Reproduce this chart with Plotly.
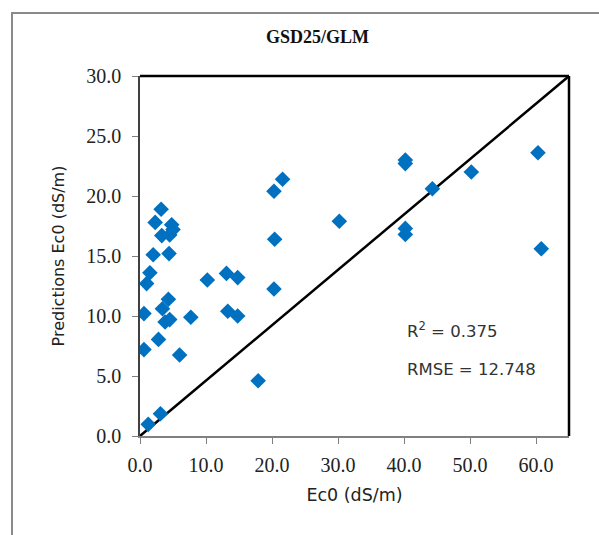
import plotly.graph_objects as go

# Observed Ec0 (dS/m) vs predicted Ec0 (dS/m)
observed = [3.2, 2.3, 3.3, 4.8, 5.0, 4.5, 2.0, 4.4, 20.3, 21.6, 20.4,
            40.2, 40.2, 50.2, 60.3, 44.3, 30.2, 40.2, 40.2, 60.8,
            1.5, 1.0, 0.6, 0.6, 3.4, 4.3, 3.8, 4.5, 2.8, 6.0, 7.7,
            10.2, 13.1, 14.8, 13.3, 14.8, 20.3, 17.9, 3.1, 1.25]
predicted = [18.9, 17.8, 16.7, 17.6, 17.2, 16.75, 15.1, 15.2, 20.4, 21.4, 16.4,
             23.0, 22.7, 22.0, 23.6, 20.6, 17.9, 17.3, 16.8, 15.6,
             13.6, 12.7, 10.2, 7.2, 10.6, 11.4, 9.5, 9.7, 8.05, 6.75, 9.9,
             13.0, 13.55, 13.2, 10.4, 10.0, 12.25, 4.6, 1.85, 0.97]

x_range = [0, 65]
y_range = [0, 30]
x_ticks = [0, 10, 20, 30, 40, 50, 60]
y_ticks = [0, 5, 10, 15, 20, 25, 30]
x_ticktext = ["%.1f" % v for v in x_ticks]
y_ticktext = ["%.1f" % v for v in y_ticks]
stats_text = ["R<sup>2</sup> = 0.375", "RMSE = 12.748"]

fig = go.Figure()

# reference line corner to corner
fig.add_trace(go.Scatter(x=[x_range[0], x_range[1]], y=[y_range[0], y_range[1]],
                         mode="lines", line=dict(color="black", width=2.5),
                         hoverinfo="skip", showlegend=False))

fig.add_trace(go.Scatter(x=observed, y=predicted, mode="markers",
                         marker=dict(symbol="diamond", size=12, color="#0070C0",
                                     line=dict(width=0)),
                         showlegend=False))

serif = "Liberation Serif"
sans = "DejaVu Sans"

fig.update_xaxes(range=x_range, tickvals=x_ticks, ticktext=x_ticktext,
                 ticks="outside", ticklen=6, tickcolor="#808080",
                 showline=True, linecolor="#808080", linewidth=1.5,
                 showgrid=False, zeroline=False,
                 tickfont=dict(family=serif, size=20, color="#222"),
                 ticklabelstandoff=4,
                 title=dict(text="Ec0 (dS/m)", font=dict(family=sans, size=17.5, color="#222"),
                            standoff=14))
fig.update_yaxes(range=y_range, tickvals=y_ticks, ticktext=y_ticktext,
                 ticks="outside", ticklen=6, tickcolor="#808080",
                 showline=True, linecolor="#404040", linewidth=1.5,
                 showgrid=False, zeroline=False,
                 tickfont=dict(family=serif, size=20, color="#222"),
                 ticklabelstandoff=7,
                 title=dict(text="Predictions Ec0 (dS/m)", font=dict(family=sans, size=16, color="#222"),
                            standoff=18))

shapes = [
    # top and right border of plot
    dict(type="line", xref="paper", yref="paper", x0=0, x1=1, y0=1, y1=1,
         line=dict(color="black", width=2.5)),
    dict(type="line", xref="paper", yref="paper", x0=1, x1=1, y0=0, y1=1,
         line=dict(color="black", width=2.5)),
    # outer chart frame
    dict(type="rect", xref="paper", yref="paper",
         x0=(12 - 140) / 429, x1=(640 - 140) / 429,
         y0=(436 - 600) / 360, y1=(436 - 13) / 360,
         line=dict(color="#8a8a8a", width=2), fillcolor="rgba(0,0,0,0)", layer="below"),
]

annotations = [
    dict(text="<b>GSD25/GLM</b>", xref="paper", yref="paper",
         x=(317 - 140) / 429, y=(436 - 37) / 360, showarrow=False,
         font=dict(family=serif, size=18, color="#111"), xanchor="center", yanchor="middle"),
    dict(text=stats_text[0], xref="paper", yref="paper",
         x=(405 - 140) / 429, y=(436 - 330) / 360, showarrow=False, xanchor="left",
         yanchor="middle", font=dict(family=sans, size=16.5, color="#333")),
    dict(text=stats_text[1], xref="paper", yref="paper",
         x=(405 - 140) / 429, y=(436 - 369) / 360, showarrow=False, xanchor="left",
         yanchor="middle", font=dict(family=sans, size=16.5, color="#333")),
]

fig.update_layout(width=599, height=535,
                  margin=dict(l=140, r=30, t=76, b=99, autoexpand=False),
                  plot_bgcolor="white", paper_bgcolor="white",
                  shapes=shapes, annotations=annotations, showlegend=False)

fig.write_html("out.html")
